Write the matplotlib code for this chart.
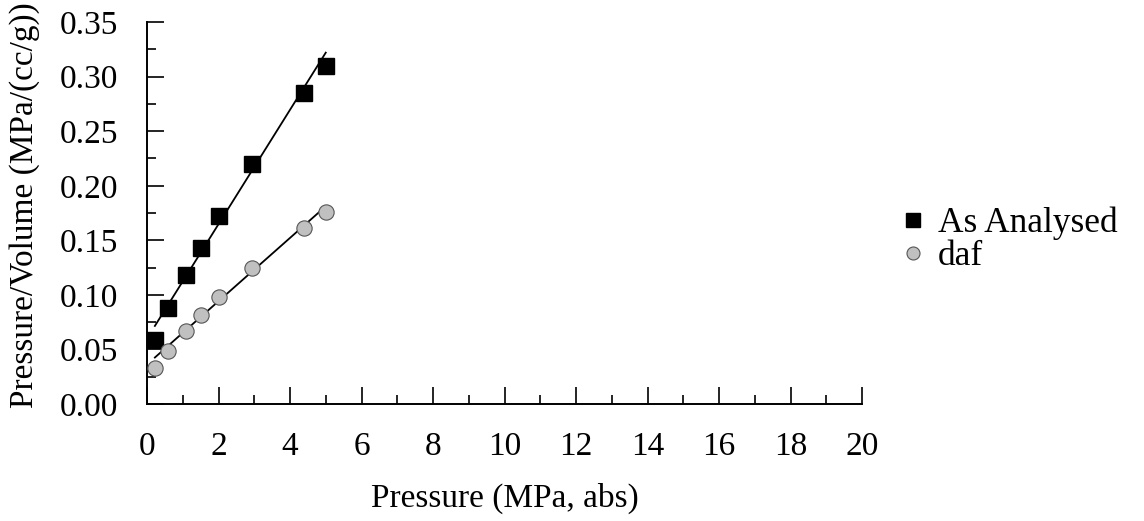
import numpy as np
import matplotlib.pyplot as plt
from matplotlib.ticker import MultipleLocator

plt.rcParams['font.family'] = ['Liberation Serif', 'DejaVu Serif']

# Data
pressure = [0.22, 0.6, 1.1, 1.5, 2.0, 2.95, 4.4, 5.0]
pv_as_analysed = [0.059, 0.088, 0.118, 0.143, 0.172, 0.220, 0.285, 0.310]
pv_daf = [0.033, 0.049, 0.067, 0.082, 0.098, 0.125, 0.161, 0.176]

# Linear fits (slope, intercept) as drawn
fit_as_analysed = (0.0524, 0.0600)
fit_daf = (0.0290, 0.0362)

fig = plt.figure(figsize=(11.44, 5.21), dpi=100)
ax = fig.add_axes([0.1285, 0.2246, 0.625, 0.733])

xfit = np.array([min(pressure), max(pressure)])
ax.plot(xfit, fit_as_analysed[0] * xfit + fit_as_analysed[1], color='black', lw=1.3, zorder=2)
ax.plot(xfit, fit_daf[0] * xfit + fit_daf[1], color='black', lw=1.3, zorder=2)

ax.plot(pressure, pv_as_analysed, 's', color='black', markersize=11.5,
        label='As Analysed', zorder=3)
ax.plot(pressure, pv_daf, 'o', markerfacecolor='#c0c0c0', markeredgecolor='#555555',
        markeredgewidth=0.8, markersize=11, label='daf', zorder=3)

ax.set_xlim(0, 20)
ax.set_ylim(0, 0.35)
ax.xaxis.set_major_locator(MultipleLocator(2))
ax.xaxis.set_minor_locator(MultipleLocator(1))
ax.yaxis.set_major_locator(MultipleLocator(0.05))
ax.yaxis.set_minor_locator(MultipleLocator(0.025))
ax.yaxis.set_major_formatter(plt.FormatStrFormatter('%.2f'))

for side in ['top', 'right']:
    ax.spines[side].set_visible(False)
for side in ['left', 'bottom']:
    ax.spines[side].set_linewidth(1.4)

ax.tick_params(which='major', direction='in', length=12.5, width=1.2,
               labelsize=24, pad=20)
ax.tick_params(which='minor', direction='in', length=6.5, width=1.2)
ax.tick_params(axis='y', which='major', pad=21)

ax.set_xlabel('Pressure (MPa, abs)', fontsize=24, labelpad=15)
ax.set_ylabel('Pressure/Volume (MPa/(cc/g))', fontsize=24)
ax.yaxis.set_label_coords(-0.15, 0.52)

ax.legend(loc='center left', bbox_to_anchor=(0.755, 0.54),
          bbox_transform=fig.transFigure, frameon=False,
          fontsize=25.5, handlelength=1.0, handletextpad=0.2,
          markerscale=0.85, labelspacing=0.0)

fig.savefig('out.png', dpi=100)
